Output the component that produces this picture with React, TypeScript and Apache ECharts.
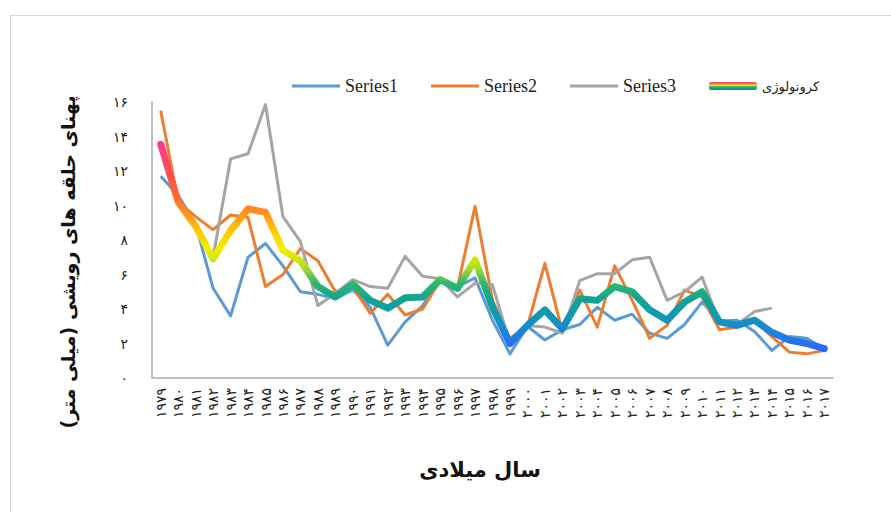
import React, { useEffect, useRef } from "react";
import * as echarts from "echarts";

const years = [
  "1979", "1980", "1981", "1982", "1983", "1984", "1985", "1986", "1987", "1988",
  "1989", "1990", "1991", "1992", "1993", "1994", "1995", "1996", "1997", "1998",
  "1999", "2000", "2001", "2002", "2003", "2004", "2005", "2006", "2007", "2008",
  "2009", "2010", "2011", "2012", "2013", "2014", "2015", "2016", "2017",
];

const series1 = [
  11.7, 10.6, 8.9, 5.2, 3.6, 7.0, 7.8, 6.5, 5.0, 4.85,
  4.6, 5.1, 4.1, 1.9, 3.25, 4.2, 5.7, 5.3, 5.8, 3.35,
  1.4, 3.0, 2.2, 2.8, 3.1, 4.1, 3.35, 3.7, 2.6, 2.3,
  3.1, 4.4, 3.3, 3.35, 2.7, 1.6, 2.4, 2.3, 1.7,
];

const series2 = [
  15.5, 10.2, 9.35, 8.6, 9.45, 9.3, 5.3, 6.0, 7.5, 6.8,
  5.0, 5.3, 3.75, 4.85, 3.65, 4.0, 5.65, 5.25, 9.95, 4.5,
  2.3, 3.0, 6.65, 2.7, 5.1, 2.95, 6.5, 4.5, 2.3, 3.05,
  5.1, 4.7, 2.8, 2.95, 3.35, 2.4, 1.5, 1.4, 1.6,
];

const series3 = [
  13.5, 10.2, 8.8, 7.0, 12.7, 13.0, 15.85, 9.35, 7.9, 4.2,
  4.9, 5.7, 5.3, 5.2, 7.05, 5.9, 5.75, 4.7, 5.5, 5.4,
  2.0, 3.05, 2.95, 2.6, 5.65, 6.05, 6.05, 6.85, 7.0, 4.5,
  5.0, 5.85, 3.2, 3.1, 3.85, 4.05, null, null, null,
];

const chronology = [
  13.55, 10.2, 8.8, 6.9, 8.55, 9.8, 9.6, 7.4, 6.8, 5.3,
  4.7, 5.45, 4.5, 4.05, 4.65, 4.7, 5.7, 5.2, 6.85, 4.1,
  2.0, 3.05, 3.95, 2.85, 4.6, 4.5, 5.3, 5.0, 3.95, 3.35,
  4.4, 5.0, 3.25, 3.05, 3.35, 2.65, 2.2, 2.0, 1.7,
];

const seriesNames = ["Series1", "Series2", "Series3", "کرونولوژی"];
const seriesColors = ["#5b9bd5", "#ed7d31", "#a5a5a5"];
const yAxisTitle = "پهنای حلقه های رویشی (میلی متر)";
const xAxisTitle = "سال میلادی";

const faDigits = "۰۱۲۳۴۵۶۷۸۹";
const toFa = (v: any) => String(v).replace(/\d/g, (d) => faDigits[+d]);

// colour ramp of the chronology line, from value 1.5 (blue) to 13.5 (pink), step 1
const rainbowStops = [
  "#2e62ff",
  "#1f7fe0",
  "#1296b8",
  "#0fa396",
  "#2cb86e",
  "#b8e020",
  "#f4f000",
  "#ffc800",
  "#ff961c",
  "#ff6a30",
  "#ff5540",
  "#ff4a6a",
  "#ff3a8e",
];

const lineIcon = "path://M0,0H48V3H0Z";

export default function App() {
  const ref = useRef<HTMLDivElement>(null);

  useEffect(() => {
    if (!ref.current) return;
    const chart = echarts.init(ref.current, undefined, { renderer: "svg" });
    const axisColor = "#bfbfbf";
    const legendGradient = new echarts.graphic.LinearGradient(0, 0, 0, 1, [
      { offset: 0, color: "#ff3a8e" },
      { offset: 0.2, color: "#ff6a30" },
      { offset: 0.4, color: "#f4f000" },
      { offset: 0.6, color: "#2cb86e" },
      { offset: 0.8, color: "#0fa396" },
      { offset: 1, color: "#2e62ff" },
    ]);

    chart.setOption({
      animation: false,
      backgroundColor: "#ffffff",
      grid: { left: 152, top: 102, right: 58, bottom: 134, containLabel: false },
      legend: {
        left: 287,
        top: 72,
        itemWidth: 48,
        itemHeight: 8,
        itemGap: 33,
        itemTextGap: 5,
        textStyle: { fontFamily: "Liberation Serif", fontSize: 18, color: "#222" },
        data: [
          { name: seriesNames[0], icon: lineIcon, itemStyle: { color: seriesColors[0] } },
          { name: seriesNames[1], icon: lineIcon, itemStyle: { color: seriesColors[1] } },
          { name: seriesNames[2], icon: lineIcon, itemStyle: { color: seriesColors[2] } },
          {
            name: seriesNames[3],
            icon: "roundRect",
            itemStyle: { color: legendGradient },
            textStyle: { fontFamily: "DejaVu Sans", fontSize: 13, color: "#222" },
          },
        ],
      },
      visualMap: {
        type: "continuous",
        show: false,
        seriesIndex: 3,
        dimension: 1,
        min: 1.5,
        max: 13.5,
        inRange: { color: rainbowStops },
      },
      xAxis: {
        type: "category",
        data: years,
        boundaryGap: true,
        axisLine: { show: true, lineStyle: { color: axisColor, width: 2 } },
        axisTick: { show: false },
        axisLabel: {
          interval: 0,
          rotate: 90,
          margin: 10,
          formatter: toFa,
          fontFamily: "DejaVu Sans",
          fontSize: 14,
          color: "#222",
        },
        splitLine: { show: false },
      },
      yAxis: {
        type: "value",
        min: 0,
        max: 16,
        interval: 2,
        axisLine: { show: true, lineStyle: { color: axisColor, width: 2 } },
        axisTick: { show: false },
        splitLine: { show: false },
        axisLabel: {
          margin: 24,
          formatter: toFa,
          fontFamily: "DejaVu Sans",
          fontSize: 14,
          color: "#222",
        },
      },
      series: [
        {
          name: seriesNames[0],
          type: "line",
          data: series1,
          symbol: "none",
          lineStyle: { width: 3, color: seriesColors[0], join: "round" },
          itemStyle: { color: seriesColors[0] },
        },
        {
          name: seriesNames[1],
          type: "line",
          data: series2,
          symbol: "none",
          lineStyle: { width: 3, color: seriesColors[1], join: "round" },
          itemStyle: { color: seriesColors[1] },
        },
        {
          name: seriesNames[2],
          type: "line",
          data: series3,
          symbol: "none",
          lineStyle: { width: 3, color: seriesColors[2], join: "round" },
          itemStyle: { color: seriesColors[2] },
        },
        {
          name: seriesNames[3],
          type: "line",
          data: chronology,
          symbol: "none",
          lineStyle: { width: 7, cap: "round", join: "round" },
        },
      ],
      graphic: [
        {
          type: "rect",
          shape: { x: 10.5, y: 15.5, width: 900, height: 520 },
          style: { fill: "none", stroke: "#d9d9d9", lineWidth: 1 },
          silent: true,
        },
        {
          type: "text",
          x: 68,
          y: 262,
          rotation: Math.PI / 2,
          style: {
            text: yAxisTitle,
            font: "bold 19px 'DejaVu Sans'",
            fill: "#111",
            align: "center",
            verticalAlign: "middle",
          },
        },
        {
          type: "text",
          x: 480,
          y: 470,
          style: {
            text: xAxisTitle,
            font: "bold 21px 'DejaVu Sans'",
            fill: "#111",
            align: "center",
            verticalAlign: "middle",
          },
        },
      ],
    });

    return () => {
      chart.dispose();
    };
  }, []);

  return (
    <div
      ref={ref}
      style={{
        position: "fixed",
        left: 0,
        top: 0,
        width: 891,
        height: 512,
        background: "#fff",
      }}
    />
  );
}
